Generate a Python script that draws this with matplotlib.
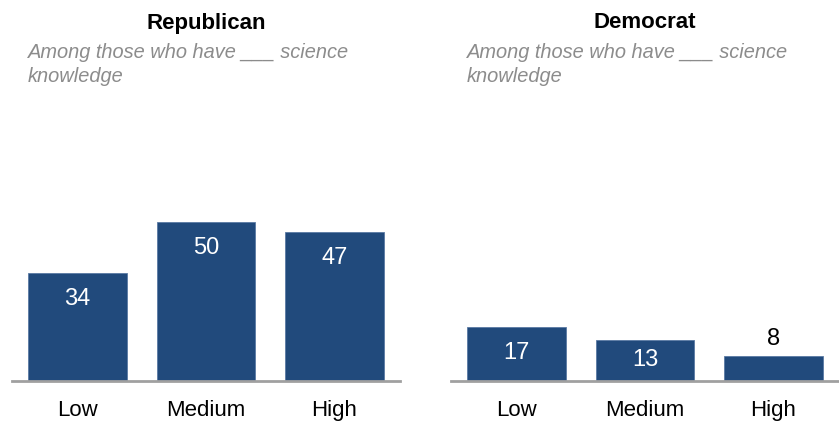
import matplotlib.pyplot as plt

# === Data ===
levels = ["Low", "Medium", "High"]
republican = [34, 50, 47]
democrat = [17, 13, 8]
panel_titles = ["Republican", "Democrat"]
subtitle = "Among those who have ___ science\nknowledge"

bar_color = "#214a7c"
font = "Liberation Sans"
plt.rcParams['font.family'] = [font, 'DejaVu Sans']

fig = plt.figure(figsize=(8.39, 4.21), dpi=100)

# axes placement in figure fractions (baseline at y=381px)
W, H = 839, 421
bottom = (H - 381) / H
height = (60 * 3.18) / H
axes_pos = [(12, 400), (451, 839)]

for (x0, x1), title, vals in zip(axes_pos, panel_titles, [republican, democrat]):
    ax = fig.add_axes([x0 / W, bottom, (x1 - x0) / W, height])
    xs = range(len(levels))
    ax.bar(xs, vals, width=0.77, color=bar_color, edgecolor="#5a7aa3", linewidth=0.6)
    ax.set_xlim(-0.51, 2.51)
    ax.set_ylim(0, 60)
    for x, v in zip(xs, vals):
        if v < 10:
            ax.text(x, v + 5.3, str(v), ha="center", va="center", fontsize=17, color="black")
        else:
            y = max(v - 8.2, v / 2)
            ax.text(x, y, str(v), ha="center", va="center", fontsize=17, color="white")
    ax.set_xticks(list(xs))
    ax.set_xticklabels(levels, fontsize=16)
    ax.tick_params(axis="x", length=0, pad=14)
    ax.set_yticks([])
    for s in ["top", "right", "left"]:
        ax.spines[s].set_visible(False)
    ax.spines["bottom"].set_color("#a0a0a0")
    ax.spines["bottom"].set_linewidth(2)

    cx = (x0 + x1) / 2 / W
    fig.text(cx, 1 - 23 / H, title, ha="center", va="center", fontsize=16, fontweight="bold")
    fig.text((x0 + 16) / W, 1 - 43 / H, subtitle, ha="left", va="top", fontsize=14.4,
             style="italic", color="#8c8c8c", linespacing=1.3)

fig.savefig("out.png", dpi=100)
